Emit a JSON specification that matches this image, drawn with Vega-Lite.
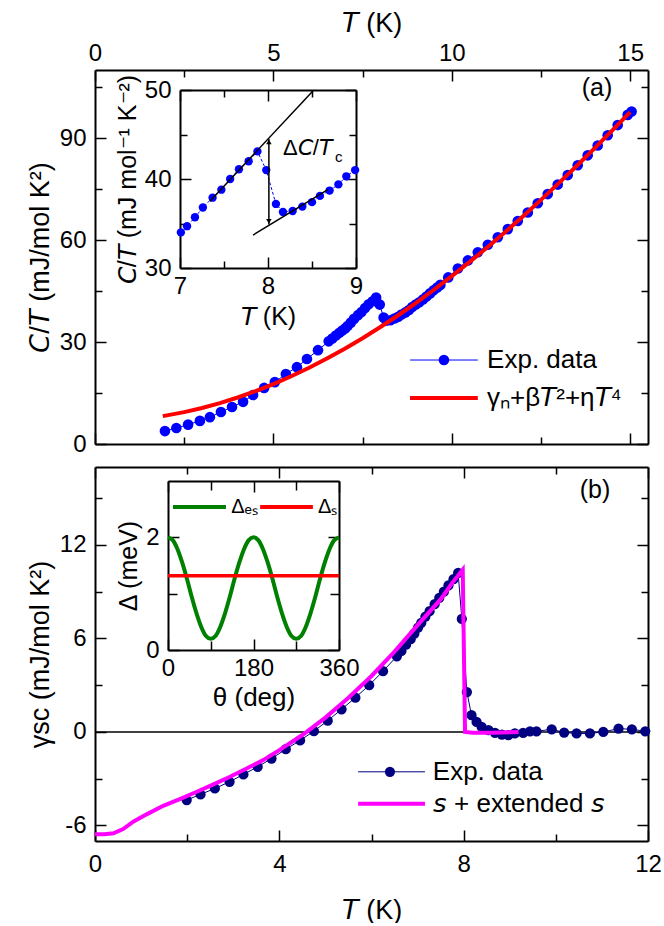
{
  "$schema": "https://vega.github.io/schema/vega-lite/v6.json",
  "background": "white",
  "padding": {"left": 26, "top": 9, "right": 10, "bottom": 0},
  "config": {
    "view": {"stroke": null},
    "font": "Liberation Sans",
    "axis": {
      "domainColor": "black", "domainWidth": 2,
      "tickColor": "black", "tickWidth": 1.5,
      "labelColor": "black", "titleColor": "black",
      "labelFont": "Liberation Sans", "titleFont": "Liberation Sans",
      "labelFontSize": 24, "titleFontSize": 27, "titleFontWeight": "normal",
      "grid": false, "labelFlush": false, "labelOverlap": false
    }
  },
  "datasets": {
    "expA": [
      {"T": 1.96, "CT": 3.8}, {"T": 2.28, "CT": 4.7}, {"T": 2.61, "CT": 5.7}, {"T": 2.94, "CT": 6.8},
      {"T": 3.22, "CT": 7.9}, {"T": 3.53, "CT": 9.4}, {"T": 3.84, "CT": 10.9}, {"T": 4.15, "CT": 12.4},
      {"T": 4.43, "CT": 14.4}, {"T": 4.74, "CT": 16.5}, {"T": 5.04, "CT": 18.2}, {"T": 5.35, "CT": 20.6},
      {"T": 5.66, "CT": 22.6}, {"T": 5.94, "CT": 25.0}, {"T": 6.25, "CT": 27.6}, {"T": 6.55, "CT": 30.2},
      {"T": 6.65, "CT": 31.0}, {"T": 6.75, "CT": 31.9}, {"T": 6.85, "CT": 32.7}, {"T": 6.93, "CT": 33.4},
      {"T": 7.01, "CT": 34.0}, {"T": 7.08, "CT": 34.7}, {"T": 7.17, "CT": 35.7}, {"T": 7.26, "CT": 36.8},
      {"T": 7.37, "CT": 37.9}, {"T": 7.47, "CT": 38.8}, {"T": 7.57, "CT": 40.0}, {"T": 7.67, "CT": 41.1},
      {"T": 7.78, "CT": 42.0}, {"T": 7.88, "CT": 43.1}, {"T": 7.98, "CT": 41.0}, {"T": 8.09, "CT": 37.2},
      {"T": 8.17, "CT": 36.3}, {"T": 8.28, "CT": 36.4}, {"T": 8.39, "CT": 36.9}, {"T": 8.50, "CT": 37.4},
      {"T": 8.59, "CT": 38.1}, {"T": 8.70, "CT": 38.7}, {"T": 8.80, "CT": 39.4}, {"T": 8.89, "CT": 40.3},
      {"T": 8.99, "CT": 41.0}, {"T": 9.09, "CT": 41.7}, {"T": 9.19, "CT": 42.5}, {"T": 9.29, "CT": 43.4},
      {"T": 9.39, "CT": 44.3}, {"T": 9.49, "CT": 45.2}, {"T": 9.59, "CT": 46.0}, {"T": 9.68, "CT": 46.8},
      {"T": 9.90, "CT": 49.0}, {"T": 10.17, "CT": 51.6}, {"T": 10.45, "CT": 54.0}, {"T": 10.73, "CT": 56.4},
      {"T": 11.01, "CT": 58.6}, {"T": 11.29, "CT": 60.8}, {"T": 11.57, "CT": 63.2}, {"T": 11.85, "CT": 65.6},
      {"T": 12.13, "CT": 68.1}, {"T": 12.41, "CT": 70.8}, {"T": 12.69, "CT": 73.5}, {"T": 12.97, "CT": 76.3},
      {"T": 13.25, "CT": 79.1}, {"T": 13.53, "CT": 82.0}, {"T": 13.81, "CT": 84.9}, {"T": 14.09, "CT": 87.8},
      {"T": 14.37, "CT": 90.8}, {"T": 14.65, "CT": 93.8}, {"T": 14.93, "CT": 96.8}, {"T": 15.04, "CT": 97.8}
    ],
    "fitA": [
      {"T": 1.9, "CT": 8.2}, {"T": 2.5, "CT": 9.37}, {"T": 3.0, "CT": 10.59}, {"T": 3.5, "CT": 12.03},
      {"T": 4.0, "CT": 13.68}, {"T": 4.5, "CT": 15.55}, {"T": 5.0, "CT": 17.63}, {"T": 5.5, "CT": 19.92},
      {"T": 6.0, "CT": 22.42}, {"T": 6.5, "CT": 25.12}, {"T": 7.0, "CT": 28.01}, {"T": 7.5, "CT": 31.11},
      {"T": 8.0, "CT": 34.40}, {"T": 8.5, "CT": 37.87}, {"T": 9.0, "CT": 41.53}, {"T": 9.5, "CT": 45.37},
      {"T": 10.0, "CT": 49.37}, {"T": 10.5, "CT": 53.55}, {"T": 11.0, "CT": 57.88}, {"T": 11.5, "CT": 62.38},
      {"T": 12.0, "CT": 67.01}, {"T": 12.5, "CT": 71.80}, {"T": 13.0, "CT": 76.72}, {"T": 13.5, "CT": 81.77},
      {"T": 14.0, "CT": 86.93}, {"T": 14.5, "CT": 92.23}, {"T": 15.0, "CT": 97.61}
    ],
    "jumpLinesA": [
      {"line": "upper", "T": 7.34, "CT": 37.5}, {"line": "upper", "T": 8.51, "CT": 49.9},
      {"line": "lower", "T": 7.83, "CT": 33.7}, {"line": "lower", "T": 8.68, "CT": 38.8}
    ],
    "jumpA": [{"T": 8.01, "lo": 34.9, "hi": 44.5}],
    "expB": [
      {"T": 1.99, "G": -4.37}, {"T": 2.29, "G": -4.01}, {"T": 2.60, "G": -3.63}, {"T": 2.92, "G": -3.20},
      {"T": 3.22, "G": -2.73}, {"T": 3.53, "G": -2.24}, {"T": 3.83, "G": -1.71}, {"T": 4.14, "G": -1.11},
      {"T": 4.45, "G": -0.55}, {"T": 4.75, "G": 0.05}, {"T": 5.05, "G": 0.72}, {"T": 5.35, "G": 1.45},
      {"T": 5.65, "G": 2.2}, {"T": 5.95, "G": 3.0}, {"T": 6.25, "G": 3.9}, {"T": 6.55, "G": 4.85},
      {"T": 6.65, "G": 5.2}, {"T": 6.75, "G": 5.6}, {"T": 6.85, "G": 5.95}, {"T": 6.93, "G": 6.3},
      {"T": 7.01, "G": 6.7}, {"T": 7.08, "G": 7.0}, {"T": 7.17, "G": 7.4}, {"T": 7.26, "G": 7.75},
      {"T": 7.37, "G": 8.2}, {"T": 7.47, "G": 8.6}, {"T": 7.57, "G": 9.0}, {"T": 7.67, "G": 9.4},
      {"T": 7.78, "G": 9.8}, {"T": 7.88, "G": 10.2}, {"T": 7.96, "G": 7.25}, {"T": 8.07, "G": 2.56},
      {"T": 8.17, "G": 1.07}, {"T": 8.28, "G": 0.64}, {"T": 8.39, "G": 0.32}, {"T": 8.54, "G": 0.11},
      {"T": 8.68, "G": -0.06}, {"T": 8.83, "G": -0.17}, {"T": 8.97, "G": -0.21}, {"T": 9.11, "G": -0.1},
      {"T": 9.29, "G": -0.06}, {"T": 9.44, "G": 0.04}, {"T": 9.58, "G": 0.04}, {"T": 9.91, "G": 0.17},
      {"T": 10.18, "G": -0.04}, {"T": 10.45, "G": -0.1}, {"T": 10.74, "G": -0.1}, {"T": 11.03, "G": 0.0},
      {"T": 11.36, "G": 0.21}, {"T": 11.65, "G": 0.17}, {"T": 11.94, "G": 0.04}
    ],
    "fitB": [
      {"T": 0, "G": -6.57}, {"T": 0.2, "G": -6.56}, {"T": 0.4, "G": -6.51}, {"T": 0.61, "G": -6.23},
      {"T": 0.83, "G": -5.76}, {"T": 1.12, "G": -5.29}, {"T": 1.48, "G": -4.74}, {"T": 1.84, "G": -4.31},
      {"T": 2.21, "G": -3.84}, {"T": 2.57, "G": -3.37}, {"T": 2.93, "G": -2.88}, {"T": 3.29, "G": -2.35},
      {"T": 3.65, "G": -1.81}, {"T": 4.0, "G": -1.17}, {"T": 4.5, "G": -0.2}, {"T": 5.0, "G": 0.92},
      {"T": 5.5, "G": 2.19}, {"T": 6.0, "G": 3.59}, {"T": 6.5, "G": 5.15}, {"T": 7.0, "G": 6.85},
      {"T": 7.5, "G": 8.5}, {"T": 7.75, "G": 9.55}, {"T": 7.98, "G": 10.41}, {"T": 8.03, "G": 0.0},
      {"T": 8.2, "G": -0.05}, {"T": 8.6, "G": -0.05}, {"T": 9.19, "G": 0.0}
    ],
    "gapES": [
      {"theta": 0, "D": 2.0}, {"theta": 10, "D": 1.95}, {"theta": 20, "D": 1.79}, {"theta": 30, "D": 1.55},
      {"theta": 40, "D": 1.26}, {"theta": 50, "D": 0.94}, {"theta": 60, "D": 0.65}, {"theta": 70, "D": 0.41},
      {"theta": 80, "D": 0.25}, {"theta": 90, "D": 0.2}, {"theta": 100, "D": 0.25}, {"theta": 110, "D": 0.41},
      {"theta": 120, "D": 0.65}, {"theta": 130, "D": 0.94}, {"theta": 140, "D": 1.26}, {"theta": 150, "D": 1.55},
      {"theta": 160, "D": 1.79}, {"theta": 170, "D": 1.95}, {"theta": 180, "D": 2.0}, {"theta": 190, "D": 1.95},
      {"theta": 200, "D": 1.79}, {"theta": 210, "D": 1.55}, {"theta": 220, "D": 1.26}, {"theta": 230, "D": 0.94},
      {"theta": 240, "D": 0.65}, {"theta": 250, "D": 0.41}, {"theta": 260, "D": 0.25}, {"theta": 270, "D": 0.2},
      {"theta": 280, "D": 0.25}, {"theta": 290, "D": 0.41}, {"theta": 300, "D": 0.65}, {"theta": 310, "D": 0.94},
      {"theta": 320, "D": 1.26}, {"theta": 330, "D": 1.55}, {"theta": 340, "D": 1.79}, {"theta": 350, "D": 1.95},
      {"theta": 360, "D": 2.0}
    ],
    "gapS": [{"theta": 0, "D": 1.32}, {"theta": 360, "D": 1.32}],
    "one": [{}]
  },
  "spacing": 10,
  "vconcat": [
    {
      "width": 553,
      "height": 374,
      "resolve": {
        "scale": {"x": "independent", "y": "independent"},
        "axis": {"x": "independent", "y": "independent"}
      },
      "layer": [
        {
          "resolve": {"axis": {"x": "independent", "y": "independent"}},
          "layer": [
            {
              "data": {"name": "expA"},
              "mark": {"type": "line", "strokeWidth": 1, "color": "#0000ff"},
              "encoding": {
                "x": {
                  "field": "T", "type": "quantitative",
                  "scale": {"domain": [0, 15.5], "nice": false, "zero": false},
                  "axis": {
                    "orient": "top", "title": "𝘛 (K)",
                    "values": [0, 2.5, 5, 7.5, 10, 12.5, 15],
                    "labelExpr": "datum.value % 5 === 0 ? '' + datum.value : ''",
                    "tickSize": {"condition": {"test": "datum.value % 5 === 0", "value": -11}, "value": -7},
                    "labelPadding": 16, "titlePadding": 0
                  }
                },
                "y": {
                  "field": "CT", "type": "quantitative",
                  "scale": {"domain": [0, 110], "nice": false},
                  "axis": {
                    "orient": "left", "title": "𝘊/𝘛 (mJ/mol K²)",
                    "values": [0, 15, 30, 45, 60, 75, 90, 105],
                    "labelExpr": "datum.value % 30 === 0 ? '' + datum.value : ''",
                    "tickSize": {"condition": {"test": "datum.value % 30 === 0", "value": -11}, "value": -7},
                    "labelPadding": 20, "titlePadding": 5
                  }
                }
              }
            },
            {
              "data": {"name": "expA"},
              "mark": {"type": "point", "filled": true, "size": 113, "opacity": 1, "color": "#0000ff"},
              "encoding": {
                "x": {
                  "field": "T", "type": "quantitative",
                  "axis": {
                    "orient": "bottom", "labels": false, "title": null,
                    "values": [0, 2.5, 5, 7.5, 10, 12.5, 15],
                    "tickSize": {"condition": {"test": "datum.value % 5 === 0", "value": -11}, "value": -7}
                  }
                },
                "y": {
                  "field": "CT", "type": "quantitative",
                  "axis": {
                    "orient": "right", "labels": false, "title": null,
                    "values": [0, 15, 30, 45, 60, 75, 90, 105],
                    "tickSize": {"condition": {"test": "datum.value % 30 === 0", "value": -11}, "value": -7}
                  }
                }
              }
            },
            {
              "data": {"name": "fitA"},
              "mark": {"type": "line", "strokeWidth": 4, "color": "#ff0000"},
              "encoding": {
                "x": {"field": "T", "type": "quantitative", "axis": null},
                "y": {"field": "CT", "type": "quantitative", "axis": null}
              }
            },
            {
              "data": {"name": "one"},
              "mark": {"type": "rule", "strokeWidth": 1, "color": "#0000ff"},
              "encoding": {
                "x": {"datum": 8.83, "type": "quantitative", "axis": null},
                "x2": {"datum": 10.73},
                "y": {"datum": 24.7, "type": "quantitative", "axis": null}
              }
            },
            {
              "data": {"name": "one"},
              "mark": {"type": "point", "filled": true, "size": 113, "opacity": 1, "color": "#0000ff"},
              "encoding": {
                "x": {"datum": 9.78, "type": "quantitative", "axis": null},
                "y": {"datum": 24.7, "type": "quantitative", "axis": null}
              }
            },
            {
              "data": {"name": "one"},
              "mark": {"type": "rule", "strokeWidth": 4, "color": "#ff0000"},
              "encoding": {
                "x": {"datum": 8.83, "type": "quantitative", "axis": null},
                "x2": {"datum": 10.73},
                "y": {"datum": 13.5, "type": "quantitative", "axis": null}
              }
            },
            {
              "data": {"name": "one"},
              "mark": {"type": "text", "fontSize": 26, "font": "Liberation Sans", "color": "black", "align": "left", "baseline": "middle"},
              "encoding": {
                "x": {"datum": 10.99, "type": "quantitative", "axis": null},
                "y": {"datum": 24.7, "type": "quantitative", "axis": null},
                "text": {"value": "Exp. data"}
              }
            },
            {
              "data": {"name": "one"},
              "mark": {"type": "text", "fontSize": 26, "font": "Liberation Sans", "color": "black", "align": "left", "baseline": "middle"},
              "encoding": {
                "x": {"datum": 10.99, "type": "quantitative", "axis": null},
                "y": {"datum": 13.5, "type": "quantitative", "axis": null},
                "text": {"value": "γₙ+β𝘛²+η𝘛⁴"}
              }
            },
            {
              "data": {"name": "one"},
              "mark": {"type": "text", "fontSize": 25, "font": "Liberation Sans", "color": "black"},
              "encoding": {
                "x": {"datum": 14.07, "type": "quantitative", "axis": null},
                "y": {"datum": 104.7, "type": "quantitative", "axis": null},
                "text": {"value": "(a)"}
              }
            }
          ]
        },
        {
          "resolve": {"axis": {"x": "independent", "y": "independent"}},
          "layer": [
            {
              "data": {"name": "expA"},
              "transform": [{"filter": "datum.T >= 6.99 && datum.T <= 9.01"}],
              "mark": {"type": "line", "strokeWidth": 1, "strokeDash": [3, 2], "color": "#0000ff"},
              "encoding": {
                "x": {
                  "field": "T", "type": "quantitative",
                  "scale": {"domain": [7, 9], "range": [85, 261], "nice": false, "zero": false},
                  "axis": {
                    "orient": "bottom", "offset": -176, "title": "𝘛 (K)", "titleFontSize": 25,
                    "values": [7, 7.5, 8, 8.5, 9],
                    "labelExpr": "datum.value % 1 === 0 ? '' + datum.value : ''",
                    "tickSize": {"condition": {"test": "datum.value % 1 === 0", "value": -11}, "value": -7},
                    "labelPadding": 17, "titlePadding": 2
                  }
                },
                "y": {
                  "field": "CT", "type": "quantitative",
                  "scale": {"domain": [30, 50], "range": [198, 20], "nice": false, "zero": false},
                  "axis": {
                    "orient": "left", "offset": -85, "title": "𝘊/𝘛 (mJ mol⁻¹ K⁻²)", "titleFontSize": 25,
                    "values": [30, 35, 40, 45, 50],
                    "labelExpr": "datum.value % 10 === 0 ? '' + datum.value : ''",
                    "tickSize": {"condition": {"test": "datum.value % 10 === 0", "value": -11}, "value": -7},
                    "labelPadding": 20, "titlePadding": 4
                  }
                }
              }
            },
            {
              "data": {"name": "expA"},
              "transform": [{"filter": "datum.T >= 6.99 && datum.T <= 9.01"}],
              "mark": {"type": "point", "filled": true, "size": 70, "opacity": 1, "color": "#0000ff"},
              "encoding": {
                "x": {
                  "field": "T", "type": "quantitative",
                  "axis": {
                    "orient": "top", "offset": -20, "labels": false, "title": null,
                    "values": [7, 7.5, 8, 8.5, 9],
                    "tickSize": {"condition": {"test": "datum.value % 1 === 0", "value": -11}, "value": -7}
                  }
                },
                "y": {
                  "field": "CT", "type": "quantitative",
                  "axis": {
                    "orient": "right", "offset": -292, "labels": false, "title": null,
                    "values": [30, 35, 40, 45, 50],
                    "tickSize": {"condition": {"test": "datum.value % 10 === 0", "value": -11}, "value": -7}
                  }
                }
              }
            },
            {
              "data": {"name": "jumpLinesA"},
              "mark": {"type": "line", "strokeWidth": 1.5, "color": "black"},
              "encoding": {
                "x": {"field": "T", "type": "quantitative", "axis": null},
                "y": {"field": "CT", "type": "quantitative", "axis": null},
                "detail": {"field": "line"}
              }
            },
            {
              "data": {"name": "jumpA"},
              "mark": {"type": "rule", "strokeWidth": 1.5, "color": "black"},
              "encoding": {
                "x": {"field": "T", "type": "quantitative", "axis": null},
                "y": {"field": "lo", "type": "quantitative", "axis": null},
                "y2": {"field": "hi"}
              }
            },
            {
              "data": {"name": "jumpA"},
              "mark": {"type": "point", "shape": "triangle-up", "filled": true, "size": 30, "color": "black", "opacity": 1, "yOffset": 3},
              "encoding": {
                "x": {"field": "T", "type": "quantitative", "axis": null},
                "y": {"field": "hi", "type": "quantitative", "axis": null}
              }
            },
            {
              "data": {"name": "jumpA"},
              "mark": {"type": "point", "shape": "triangle-down", "filled": true, "size": 30, "color": "black", "opacity": 1, "yOffset": -3},
              "encoding": {
                "x": {"field": "T", "type": "quantitative", "axis": null},
                "y": {"field": "lo", "type": "quantitative", "axis": null}
              }
            },
            {
              "data": {"name": "one"},
              "mark": {"type": "text", "fontSize": 22, "font": "Liberation Sans", "color": "black", "align": "left", "baseline": "middle"},
              "encoding": {
                "x": {"datum": 8.17, "type": "quantitative", "axis": null},
                "y": {"datum": 43.5, "type": "quantitative", "axis": null},
                "text": {"value": "Δ𝘊/𝘛"}
              }
            },
            {
              "data": {"name": "one"},
              "mark": {"type": "text", "fontSize": 15, "font": "Liberation Sans", "color": "black", "align": "left", "baseline": "middle", "dx": 52, "dy": 9},
              "encoding": {
                "x": {"datum": 8.17, "type": "quantitative", "axis": null},
                "y": {"datum": 43.5, "type": "quantitative", "axis": null},
                "text": {"value": "c"}
              }
            }
          ]
        }
      ]
    },
    {
      "width": 553,
      "height": 374,
      "resolve": {
        "scale": {"x": "independent", "y": "independent"},
        "axis": {"x": "independent", "y": "independent"}
      },
      "layer": [
        {
          "resolve": {"axis": {"x": "independent", "y": "independent"}},
          "layer": [
            {
              "data": {"name": "one"},
              "mark": {"type": "rule", "strokeWidth": 1.5, "color": "black"},
              "encoding": {
                "y": {"datum": 0, "type": "quantitative", "axis": null}
              }
            },
            {
              "data": {"name": "expB"},
              "mark": {"type": "line", "strokeWidth": 1, "color": "#000080"},
              "encoding": {
                "x": {
                  "field": "T", "type": "quantitative",
                  "scale": {"domain": [0, 12], "nice": false, "zero": false},
                  "axis": {
                    "orient": "bottom", "title": "𝘛 (K)",
                    "values": [0, 2, 4, 6, 8, 10, 12],
                    "labelExpr": "datum.value % 4 === 0 ? '' + datum.value : ''",
                    "tickSize": {"condition": {"test": "datum.value % 4 === 0", "value": -11}, "value": -7},
                    "labelPadding": 22, "titlePadding": 17
                  }
                },
                "y": {
                  "field": "G", "type": "quantitative",
                  "scale": {"domain": [-7, 17], "nice": false, "zero": false},
                  "axis": {
                    "orient": "left", "title": "γsc (mJ/mol K²)",
                    "values": [-6, -3, 0, 3, 6, 9, 12, 15],
                    "labelExpr": "datum.value % 6 === 0 ? '' + datum.value : ''",
                    "tickSize": {"condition": {"test": "datum.value % 6 === 0", "value": -11}, "value": -7},
                    "labelPadding": 20, "titlePadding": 5
                  }
                }
              }
            },
            {
              "data": {"name": "expB"},
              "mark": {"type": "point", "filled": true, "size": 105, "opacity": 1, "color": "#000080"},
              "encoding": {
                "x": {
                  "field": "T", "type": "quantitative",
                  "axis": {
                    "orient": "top", "labels": false, "title": null,
                    "values": [0, 2, 4, 6, 8, 10, 12],
                    "tickSize": {"condition": {"test": "datum.value % 4 === 0", "value": -11}, "value": -7}
                  }
                },
                "y": {
                  "field": "G", "type": "quantitative",
                  "axis": {
                    "orient": "right", "labels": false, "title": null,
                    "values": [-6, -3, 0, 3, 6, 9, 12, 15],
                    "tickSize": {"condition": {"test": "datum.value % 6 === 0", "value": -11}, "value": -7}
                  }
                }
              }
            },
            {
              "data": {"name": "fitB"},
              "mark": {"type": "line", "strokeWidth": 4, "color": "#ff00ff"},
              "encoding": {
                "x": {"field": "T", "type": "quantitative", "axis": null},
                "y": {"field": "G", "type": "quantitative", "axis": null}
              }
            },
            {
              "data": {"name": "one"},
              "mark": {"type": "rule", "strokeWidth": 1, "color": "#000080"},
              "encoding": {
                "x": {"datum": 5.71, "type": "quantitative", "axis": null},
                "x2": {"datum": 7.16},
                "y": {"datum": -2.56, "type": "quantitative", "axis": null}
              }
            },
            {
              "data": {"name": "one"},
              "mark": {"type": "point", "filled": true, "size": 105, "opacity": 1, "color": "#000080"},
              "encoding": {
                "x": {"datum": 6.4, "type": "quantitative", "axis": null},
                "y": {"datum": -2.56, "type": "quantitative", "axis": null}
              }
            },
            {
              "data": {"name": "one"},
              "mark": {"type": "rule", "strokeWidth": 4, "color": "#ff00ff"},
              "encoding": {
                "x": {"datum": 5.71, "type": "quantitative", "axis": null},
                "x2": {"datum": 7.16},
                "y": {"datum": -4.61, "type": "quantitative", "axis": null}
              }
            },
            {
              "data": {"name": "one"},
              "mark": {"type": "text", "fontSize": 26, "font": "Liberation Sans", "color": "black", "align": "left", "baseline": "middle"},
              "encoding": {
                "x": {"datum": 7.33, "type": "quantitative", "axis": null},
                "y": {"datum": -2.56, "type": "quantitative", "axis": null},
                "text": {"value": "Exp. data"}
              }
            },
            {
              "data": {"name": "one"},
              "mark": {"type": "text", "fontSize": 26, "font": "Liberation Sans", "color": "black", "align": "left", "baseline": "middle"},
              "encoding": {
                "x": {"datum": 7.33, "type": "quantitative", "axis": null},
                "y": {"datum": -4.61, "type": "quantitative", "axis": null},
                "text": {"value": "𝘴 + extended 𝘴"}
              }
            },
            {
              "data": {"name": "one"},
              "mark": {"type": "text", "fontSize": 25, "font": "Liberation Sans", "color": "black"},
              "encoding": {
                "x": {"datum": 10.85, "type": "quantitative", "axis": null},
                "y": {"datum": 15.5, "type": "quantitative", "axis": null},
                "text": {"value": "(b)"}
              }
            }
          ]
        },
        {
          "resolve": {"axis": {"x": "independent", "y": "independent"}},
          "layer": [
            {
              "data": {"name": "gapES"},
              "mark": {"type": "line", "strokeWidth": 4, "interpolate": "monotone", "color": "#008000"},
              "encoding": {
                "x": {
                  "field": "theta", "type": "quantitative",
                  "scale": {"domain": [0, 360], "range": [73, 244], "nice": false, "zero": false},
                  "axis": {
                    "orient": "bottom", "offset": -191, "title": "θ (deg)", "titleFontSize": 26,
                    "values": [0, 90, 180, 270, 360],
                    "labelExpr": "datum.value % 180 === 0 ? '' + datum.value : ''",
                    "tickSize": {"condition": {"test": "datum.value % 180 === 0", "value": -11}, "value": -9},
                    "labelPadding": 17, "titlePadding": 2
                  }
                },
                "y": {
                  "field": "D", "type": "quantitative",
                  "scale": {"domain": [0, 3], "range": [183, 14], "nice": false, "zero": false},
                  "axis": {
                    "orient": "left", "offset": -73, "title": "Δ (meV)", "titleFontSize": 25,
                    "values": [0, 1, 2],
                    "labelExpr": "datum.value % 2 === 0 ? '' + datum.value : ''",
                    "tickSize": {"condition": {"test": "datum.value % 2 === 0", "value": -11}, "value": -9},
                    "labelPadding": 20, "titlePadding": 4
                  }
                }
              }
            },
            {
              "data": {"name": "gapS"},
              "mark": {"type": "line", "strokeWidth": 3.5, "color": "#ff0000"},
              "encoding": {
                "x": {
                  "field": "theta", "type": "quantitative",
                  "axis": {
                    "orient": "top", "offset": -14, "labels": false, "title": null,
                    "values": [0, 90, 180, 270, 360],
                    "tickSize": {"condition": {"test": "datum.value % 180 === 0", "value": -11}, "value": -9}
                  }
                },
                "y": {
                  "field": "D", "type": "quantitative",
                  "axis": {
                    "orient": "right", "offset": -309, "labels": false, "title": null,
                    "values": [0, 1, 2],
                    "tickSize": {"condition": {"test": "datum.value % 2 === 0", "value": -11}, "value": -9}
                  }
                }
              }
            },
            {
              "data": {"name": "one"},
              "mark": {"type": "rule", "strokeWidth": 4, "color": "#008000"},
              "encoding": {
                "x": {"datum": 10.5, "type": "quantitative", "axis": null},
                "x2": {"datum": 122},
                "y": {"datum": 2.54, "type": "quantitative", "axis": null}
              }
            },
            {
              "data": {"name": "one"},
              "mark": {"type": "rule", "strokeWidth": 4, "color": "#ff0000"},
              "encoding": {
                "x": {"datum": 194, "type": "quantitative", "axis": null},
                "x2": {"datum": 305},
                "y": {"datum": 2.54, "type": "quantitative", "axis": null}
              }
            },
            {
              "data": {"name": "one"},
              "mark": {"type": "text", "fontSize": 20, "font": "Liberation Sans", "color": "black", "align": "left", "baseline": "middle"},
              "encoding": {
                "x": {"datum": 133, "type": "quantitative", "axis": null},
                "y": {"datum": 2.54, "type": "quantitative", "axis": null},
                "text": {"value": "Δₑₛ"}
              }
            },
            {
              "data": {"name": "one"},
              "mark": {"type": "text", "fontSize": 20, "font": "Liberation Sans", "color": "black", "align": "left", "baseline": "middle"},
              "encoding": {
                "x": {"datum": 316, "type": "quantitative", "axis": null},
                "y": {"datum": 2.54, "type": "quantitative", "axis": null},
                "text": {"value": "Δₛ"}
              }
            }
          ]
        }
      ]
    }
  ]
}
